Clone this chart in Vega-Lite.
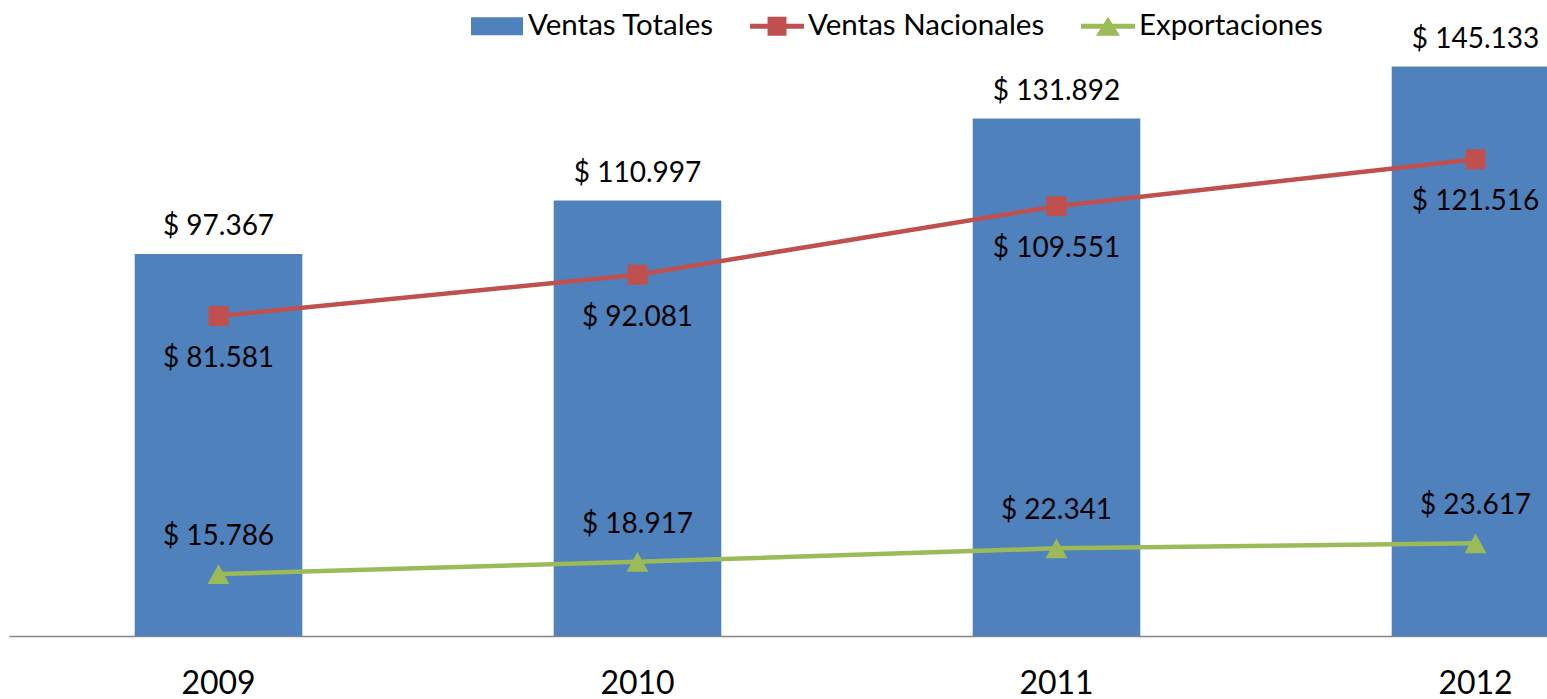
{
  "$schema": "https://vega.github.io/schema/vega-lite/v6.json",
  "width": 1547,
  "height": 636,
  "autosize": "none",
  "padding": {"left": 0, "top": 0, "right": 0, "bottom": 63},
  "background": "white",
  "config": {
    "view": {"stroke": null},
    "font": "Lato",
    "locale": {"number": {"decimal": ",", "thousands": ".", "grouping": [3], "currency": ["$ ", ""]}}
  },
  "data": {
    "values": [
      {"year": "2009", "serie": "Ventas Totales", "value": 97367},
      {"year": "2010", "serie": "Ventas Totales", "value": 110997},
      {"year": "2011", "serie": "Ventas Totales", "value": 131892},
      {"year": "2012", "serie": "Ventas Totales", "value": 145133},
      {"year": "2009", "serie": "Ventas Nacionales", "value": 81581},
      {"year": "2010", "serie": "Ventas Nacionales", "value": 92081},
      {"year": "2011", "serie": "Ventas Nacionales", "value": 109551},
      {"year": "2012", "serie": "Ventas Nacionales", "value": 121516},
      {"year": "2009", "serie": "Exportaciones", "value": 15786},
      {"year": "2010", "serie": "Exportaciones", "value": 18917},
      {"year": "2011", "serie": "Exportaciones", "value": 22341},
      {"year": "2012", "serie": "Exportaciones", "value": 23617}
    ]
  },
  "encoding": {
    "x": {
      "field": "year", "type": "ordinal", "title": null,
      "scale": {"range": [9, 1685], "paddingInner": 0.6, "paddingOuter": 0.3},
      "axis": {"labelFontSize": 32, "labelColor": "black", "labelAngle": 0, "ticks": false, "labelPadding": 32, "domainColor": "#868686", "domainWidth": 1.5, "grid": false, "labelFont": "Lato"}
    },
    "y": {
      "field": "value", "type": "quantitative",
      "scale": {"domain": [0, 162108], "nice": false, "zero": true},
      "axis": null
    }
  },
  "layer": [
    {
      "transform": [{"filter": "false"}],
      "mark": {"type": "point", "filled": true, "opacity": 1},
      "encoding": {
        "color": {"field": "serie", "type": "nominal",
          "scale": {"domain": ["Ventas Totales", "Ventas Nacionales", "Exportaciones"], "range": ["#4F81BD", "#C0504D", "#9BBB59"]},
          "legend": {"orient": "none", "legendX": 470, "legendY": -1, "direction": "horizontal", "title": null,
            "labelFontSize": 29.5, "labelFont": "Lato", "labelColor": "black", "labelLimit": 500, "labelOffset": 4,
            "columnPadding": 36, "symbolSize": 2916, "symbolStrokeWidth": 0, "symbolOpacity": 1, "padding": 0}},
        "shape": {"field": "serie", "type": "nominal",
          "scale": {"domain": ["Ventas Totales", "Ventas Nacionales", "Exportaciones"],
            "range": ["M-0.963,-0.333H0.963V0.333H-0.963Z", "M-1,-0.093H1V0.093H-1Z M-0.35,-0.35H0.35V0.35H-0.35Z", "M-1,-0.093H1V0.093H-1Z M0,-0.35L0.444,0.35H-0.444Z"]},
          "legend": {"orient": "none", "legendX": 470, "legendY": -1, "direction": "horizontal", "title": null,
            "labelFontSize": 29.5, "labelFont": "Lato", "labelColor": "black", "labelLimit": 500, "labelOffset": 4,
            "columnPadding": 36, "symbolSize": 2916, "symbolStrokeWidth": 0, "symbolOpacity": 1, "padding": 0}}
      }
    },
    {
      "transform": [{"filter": "datum.serie === 'Ventas Totales'"}],
      "mark": {"type": "bar", "opacity": 1},
      "encoding": {
        "color": {"field": "serie", "type": "nominal", "legend": null}
      }
    },
    {
      "transform": [{"filter": "datum.serie === 'Ventas Totales'"}],
      "mark": {"type": "text", "dy": -19, "baseline": "alphabetic", "fontSize": 28, "color": "black", "font": "Lato"},
      "encoding": {"text": {"field": "value", "type": "quantitative", "format": "$,d"}}
    },
    {
      "transform": [{"filter": "datum.serie === 'Ventas Nacionales'"}],
      "mark": {"type": "line", "strokeWidth": 4.5},
      "encoding": {"color": {"field": "serie", "type": "nominal", "legend": null}}
    },
    {
      "transform": [{"filter": "datum.serie === 'Ventas Nacionales'"}],
      "mark": {"type": "point", "shape": "square", "size": 400, "filled": true, "opacity": 1},
      "encoding": {"color": {"field": "serie", "type": "nominal", "legend": null}}
    },
    {
      "transform": [{"filter": "datum.serie === 'Ventas Nacionales'"}],
      "mark": {"type": "text", "dy": 51, "baseline": "alphabetic", "fontSize": 28, "color": "black", "font": "Lato"},
      "encoding": {"text": {"field": "value", "type": "quantitative", "format": "$,d"}}
    },
    {
      "transform": [{"filter": "datum.serie === 'Exportaciones'"}],
      "mark": {"type": "line", "strokeWidth": 4.5},
      "encoding": {"color": {"field": "serie", "type": "nominal", "legend": null}}
    },
    {
      "transform": [{"filter": "datum.serie === 'Exportaciones'"}],
      "mark": {"type": "point", "shape": "M0,-0.9L1,0.9H-1Z", "size": 480, "filled": true, "opacity": 1},
      "encoding": {"color": {"field": "serie", "type": "nominal", "legend": null}}
    },
    {
      "transform": [{"filter": "datum.serie === 'Exportaciones'"}],
      "mark": {"type": "text", "dy": -29, "baseline": "alphabetic", "fontSize": 28, "color": "black", "font": "Lato"},
      "encoding": {"text": {"field": "value", "type": "quantitative", "format": "$,d"}}
    }
  ]
}
